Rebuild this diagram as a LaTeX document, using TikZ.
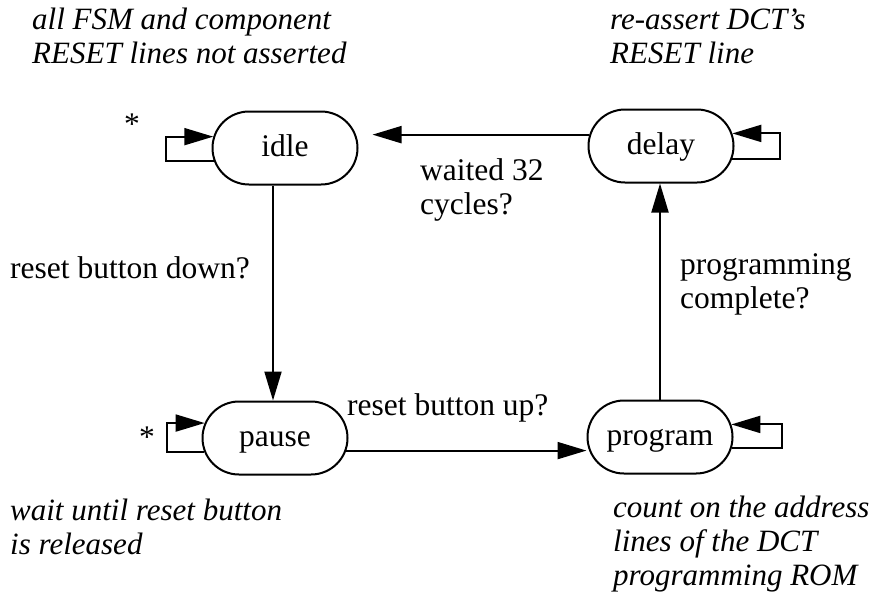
\documentclass[tikz,border=0pt]{standalone}
\usepackage{fontspec}
\setmainfont{Liberation Serif}
\usetikzlibrary{shapes.misc,arrows.meta}
\begin{document}
\begin{tikzpicture}[x=1pt,y=-1pt,
  every node/.style={font=\fontsize{31.5}{34}\selectfont, inner sep=0pt},
  state/.style={rounded rectangle, draw, line width=2pt,
    minimum width=145pt, minimum height=73pt,
    text height=22pt, text depth=6pt},
  edge/.style={line width=2pt, -{Triangle[length=29pt,width=17pt]}},
  note/.style={anchor=base west, align=left,
    font=\fontsize{31}{34}\selectfont\itshape},
  cond/.style={anchor=base west, align=left}]
\useasboundingbox (0,0) rectangle (882,600);

% states
\node[state] (idle)    at (285,148) {idle};
\node[state] (delay)   at (661,146) {delay};
\node[state] (pause)   at (275,438) {pause};
\node[state] (program) at (660,437) {program};

% transitions
\draw[edge, shorten >=14pt] (delay.171) -- (delay.171 -| idle.east);
\draw[edge] (idle.south -| pause.north) ++(-2,0) -- ([xshift=-2pt]pause.north);
\draw[edge] (pause.-10) -- (pause.-10 -| program.west);
\draw[edge] (program.north) -- (program.north |- delay.south);

% self loops
\coordinate (iL) at (166,150);
\coordinate (pL) at (167,438);
\coordinate (dR) at (780,146);
\coordinate (pR) at (782,437);
\draw[edge] (idle.190) -| (iL) |- (idle.171);
\draw[edge] (pause.191) -| (pL) |- (pause.168);
\draw[edge] (delay.-10) -| (dR) |- (delay.10);
\draw[edge] (program.-9) -| (pR) |- (program.10);

% initial markers
\node[anchor=base] (idlestar) at (132,134) {*};
\node[anchor=base] (pausestar) at (147,447) {*};

% transition conditions (base = baseline of the last line)
\node[cond] (cdown) at (10,278) {reset button down?};
\node[cond] (cwait) at (420,214) {waited 32\\cycles?};
\node[cond] (cprog) at (680,308) {programming\\complete?};
\node[cond] (cup)   at (347,415) {reset button up?};

% state annotations
\node[note] (nidle)  at (32,63)   {all FSM and component\\RESET lines not asserted};
\node[note] (ndelay) at (610,63)  {re-assert DCT's\\RESET line};
\node[note] (npause) at (10,554)  {wait until reset button\\is released};
\node[note] (nprog)  at (613,585) {count on the address\\lines of the DCT\\programming ROM};
\end{tikzpicture}
\end{document}
